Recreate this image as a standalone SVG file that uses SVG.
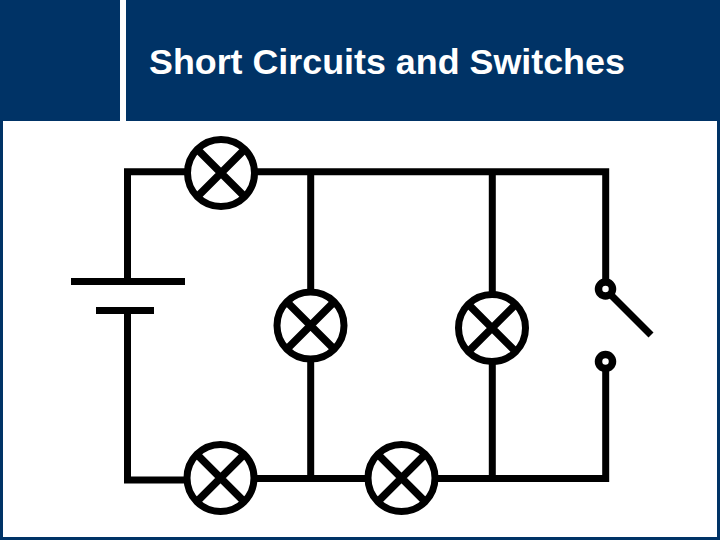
<svg xmlns="http://www.w3.org/2000/svg" width="720" height="540" viewBox="0 0 720 540">
<style>
.w{fill:none;stroke:#000;stroke-width:7}
.l circle{fill:#fff;stroke:#000;stroke-width:7}
.l path{fill:none;stroke:#000;stroke-width:7.500}
.t{fill:#fff;stroke:#000;stroke-width:7.500}
</style>
<defs>
<g id="lamp" class="l"><circle r="33.500"/><path d="M-25-25L25 25M-25 25L25-25"/></g>
</defs>
<rect id="bg" width="720" height="540" fill="#fff"/>
<g id="frame" fill="#003366">
<rect x="0" y="0" width="120" height="121"/>
<rect x="126" y="0" width="594" height="121"/>
<rect x="0" y="121" width="3" height="419"/>
<rect x="717" y="121" width="3" height="419"/>
<rect x="0" y="537" width="720" height="3"/>
</g>
<text id="title" x="149" y="74" font-family="'Liberation Sans',Arial,sans-serif" font-size="35.850" font-weight="bold" fill="#fff">Short Circuits and Switches</text>
<g id="connectors" class="w">
<path d="M221 171.700H127.500V281.500M127.500 310.500V480H221"/>
<path d="M221 171.700H605.700V289"/>
<path d="M310.700 171.700V478.500M492.300 171.700V478.500"/>
<path d="M221 478.500H605.700V362"/>
<path d="M71 281.500H185M96 310.500H154"/>
<path d="M610 294L651 335"/>
</g>
<use id="lamp1" href="#lamp" x="221" y="173"/>
<use id="lamp2" href="#lamp" x="310.500" y="325.500"/>
<use id="lamp3" href="#lamp" x="492" y="328"/>
<use id="lamp4" href="#lamp" x="220.500" y="478"/>
<use id="lamp5" href="#lamp" x="401.500" y="478"/>
<g id="switch">
<circle class="t" cx="605.500" cy="289" r="7"/>
<circle class="t" cx="605.500" cy="361.500" r="7"/>
</g>
</svg>
